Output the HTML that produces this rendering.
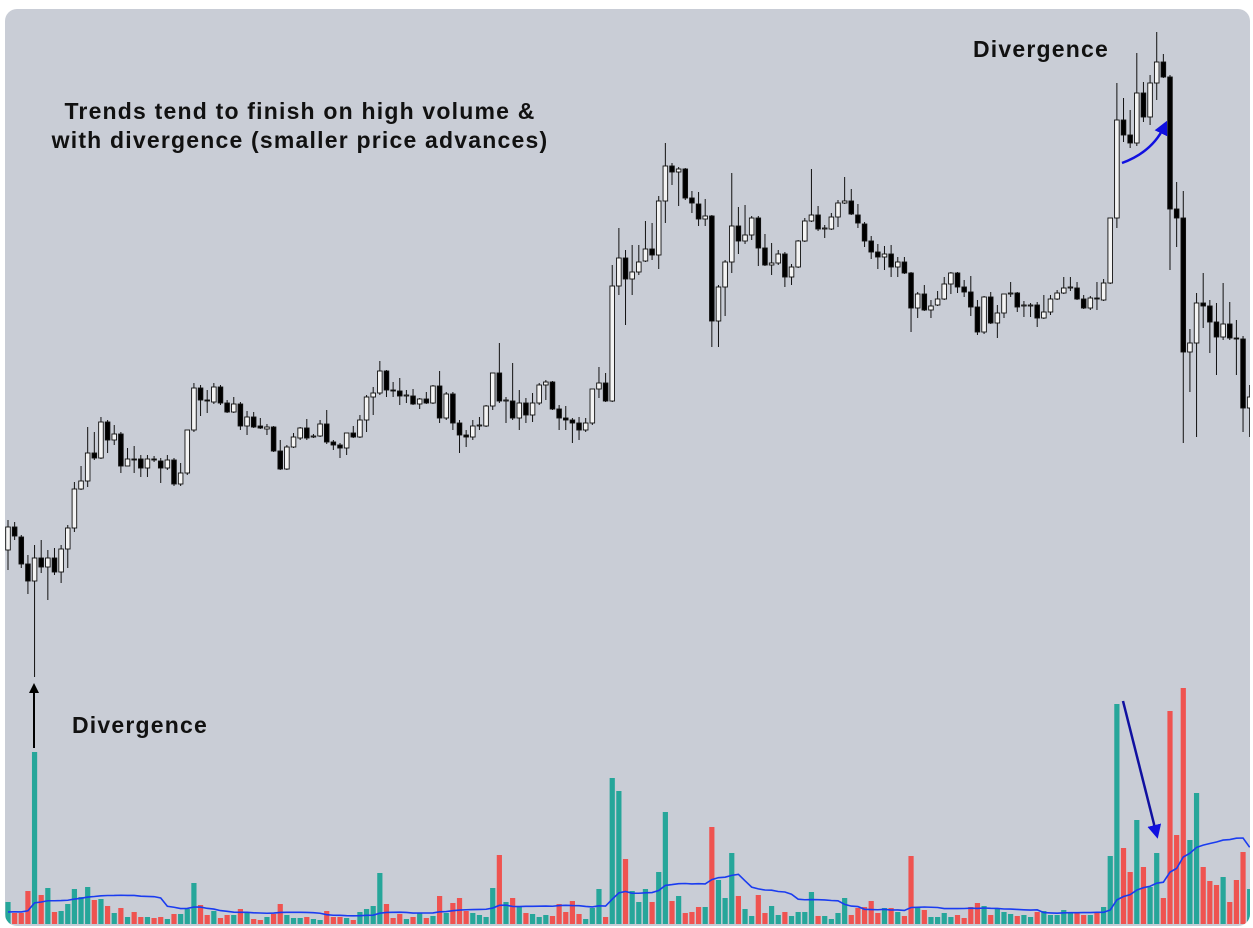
<!DOCTYPE html>
<html><head><meta charset="utf-8"><style>
html,body{margin:0;padding:0;background:#fff;width:1253px;height:928px;overflow:hidden}
svg{display:block}
text{font-family:"Liberation Sans",Arial,sans-serif;font-weight:bold;fill:#111;letter-spacing:1.2px}
</style></head><body>
<svg id="chart" width="1253" height="928" viewBox="0 0 1253 928">
<defs>
<clipPath id="panelClip"><rect x="5" y="9" width="1245" height="917" rx="12"/></clipPath>
<marker id="ahBlack" markerWidth="10" markerHeight="10" refX="5" refY="5" orient="auto" markerUnits="userSpaceOnUse"><path d="M0,0 L10,5 L0,10 z" fill="#000"/></marker>
<marker id="ahBlue" markerWidth="14" markerHeight="14" refX="7" refY="7" orient="auto" markerUnits="userSpaceOnUse"><path d="M0,0 L14,7 L0,14 z" fill="#1010e0"/></marker>
</defs>
<rect x="5" y="9" width="1245" height="917" rx="12" fill="#c9cdd6"/>
<g id="plot" clip-path="url(#panelClip)"></g>
<text x="300" y="119" font-size="23" text-anchor="middle">Trends tend to finish on high volume &amp;</text>
<text x="300" y="148" font-size="23" text-anchor="middle">with divergence (smaller price advances)</text>
<text x="973" y="57" font-size="23">Divergence</text>
<text x="72" y="733" font-size="23">Divergence</text>
<line x1="34" y1="748" x2="34" y2="688" stroke="#000" stroke-width="2" marker-end="url(#ahBlack)"/>
<path d="M1122,163 Q1152,152 1164,127" fill="none" stroke="#1010e0" stroke-width="2.5" marker-end="url(#ahBlue)"/>
<line x1="1123" y1="701" x2="1156" y2="832" stroke="#1010a0" stroke-width="2.5" marker-end="url(#ahBlue)"/>
</svg>
<script>
const opens=[450,473,463,436,419,442,433,442,428,451,472,511,519,547,542,578,560,566,534,541,541,532,541,539,532,540,516,527,570,612,600,598,613,597,588,596,574,583,574,571,573,549,531,553,562,572,563,564,576,558,555,552,567,563,580,603,607,629,610,609,604,604,596,601,597,614,582,606,577,565,563,574,574,594,627,599,599,582,597,585,597,615,618,591,582,580,577,570,577,611,617,599,714,742,721,728,739,751,745,799,834,828,831,802,796,781,784,679,713,738,774,759,765,782,752,735,737,746,723,733,759,779,785,771,771,783,797,799,785,776,759,748,743,746,733,738,727,692,706,690,695,701,716,727,713,708,693,668,703,677,687,706,707,694,694,695,682,688,701,707,712,712,701,692,702,700,717,782,880,865,857,907,883,917,938,923,791,782,648,657,697,694,678,663,676,662,661,592];
const highs=[480,478,465,445,455,460,450,452,455,475,518,534,573,568,583,580,575,568,552,554,545,545,544,542,545,542,537,570,617,615,610,617,615,600,603,598,589,588,582,576,574,560,555,567,573,581,566,580,590,560,557,567,574,585,605,613,639,630,618,622,610,611,602,608,615,629,608,608,580,570,580,583,595,627,657,603,637,610,602,607,617,620,619,595,594,582,583,582,611,633,627,735,772,750,755,755,779,777,804,857,837,833,832,809,808,801,785,715,740,827,793,795,784,784,766,757,750,748,736,760,782,831,794,775,787,800,823,811,796,778,764,756,754,755,743,743,728,708,715,700,709,723,728,728,720,724,700,704,708,695,706,718,708,699,697,698,705,705,710,723,723,718,705,704,718,721,782,917,902,890,947,918,925,968,946,925,818,809,671,707,727,700,697,717,698,680,664,615];
const lows=[430,460,432,406,323,427,400,425,417,432,468,510,513,540,541,547,555,527,534,527,523,523,538,517,530,514,514,525,568,584,587,596,595,587,587,570,565,572,571,565,548,530,530,552,560,560,562,563,556,550,542,545,562,562,568,585,605,603,603,595,597,595,591,596,596,577,580,570,547,553,560,570,573,590,597,577,580,570,577,578,595,600,590,570,570,557,560,568,575,602,598,598,705,675,705,725,738,740,731,777,815,794,800,787,774,774,653,653,684,727,746,756,760,734,734,725,735,713,715,732,758,778,769,762,770,773,796,785,772,753,741,731,730,723,723,726,668,682,689,682,694,700,706,707,703,684,665,666,676,662,682,703,688,683,683,673,681,685,700,706,709,700,691,690,690,699,716,772,858,852,854,878,875,900,922,730,753,557,608,563,672,647,625,660,660,625,568,563];
const closes=[473,464,436,419,442,433,442,428,451,472,511,519,547,542,578,560,566,534,541,540,532,541,540,532,540,516,527,570,612,600,599,613,597,588,596,574,583,573,572,573,549,531,553,563,572,562,564,576,558,555,552,567,563,580,603,607,629,610,609,604,605,596,601,597,614,582,606,577,565,563,574,575,594,627,599,600,582,597,585,597,615,618,591,582,580,577,570,577,611,617,599,714,742,721,728,738,751,745,799,834,828,831,802,797,781,784,679,713,738,774,759,765,782,752,735,737,746,723,733,759,779,785,771,772,783,797,799,786,777,759,748,743,746,733,738,727,692,706,690,694,701,716,727,713,708,693,668,703,677,687,706,707,693,695,695,682,688,701,707,712,713,701,692,702,701,717,782,880,865,857,907,883,917,938,923,791,782,648,657,697,694,678,663,676,662,661,592,603];
const volumes=[22,11,11,33,172,29,36,12,13,20,35,27,37,24,25,18,11,16,7,12,7,7,6,7,5,10,10,15,41,19,9,13,6,9,9,15,11,5,4,7,10,20,9,6,6,7,5,4,13,7,7,6,4,12,15,18,51,20,6,10,5,7,11,6,8,28,11,21,26,13,11,9,7,36,69,22,26,17,11,10,7,9,8,20,12,23,10,5,16,35,7,146,133,65,33,22,35,22,52,112,23,28,11,12,17,17,97,44,26,71,28,15,8,29,11,18,9,12,8,12,12,32,8,8,5,11,26,9,16,17,23,11,16,16,12,8,68,16,14,7,7,11,7,9,6,17,21,18,9,15,12,10,8,9,7,12,13,9,9,14,11,11,9,9,11,17,68,220,76,52,104,57,37,71,26,213,89,236,84,131,57,43,39,47,22,44,72,35];
const priorVolumes=[10,12,11,13,12,11,12,10,13,12,11,12,13,11,12,10,12,11,12];
const maPeriod=20;

const svgNS="http://www.w3.org/2000/svg";
const plot=document.getElementById('plot');
const X0=8, STEP=6.64, BODY=4.6;
function xScale(i){return X0+i*STEP;}
function yPrice(p){return 1000-p;}
const VBASE=924;
function yVol(v){return VBASE-v;}

const volG=document.createElementNS(svgNS,'g');


plot.appendChild(volG);
const candG=document.createElementNS(svgNS,'g');


plot.appendChild(candG);

for(let i=0;i<closes.length;i++){
  const x=xScale(i);
  const up=closes[i]>opens[i];
  const vb=document.createElementNS(svgNS,'rect');
  vb.setAttribute('x',(x-2.6).toFixed(2));
  vb.setAttribute('y',yVol(volumes[i]));
  vb.setAttribute('width',5.2);
  vb.setAttribute('height',volumes[i]);
  vb.setAttribute('fill',up?'#26a69a':'#ef5350');
  
  
  volG.appendChild(vb);
  const w=document.createElementNS(svgNS,'line');
  w.setAttribute('x1',x);w.setAttribute('x2',x);
  w.setAttribute('y1',yPrice(highs[i]));w.setAttribute('y2',yPrice(lows[i]));
  w.setAttribute('stroke','#111');w.setAttribute('stroke-width',1);
  
  
  candG.appendChild(w);
  const top=yPrice(Math.max(opens[i],closes[i]));
  const h=Math.max(1,Math.abs(opens[i]-closes[i]));
  const b=document.createElementNS(svgNS,'rect');
  b.setAttribute('x',(x-BODY/2).toFixed(2));
  b.setAttribute('y',top);
  b.setAttribute('width',BODY);
  b.setAttribute('height',h);
  b.setAttribute('fill',up?'#f4f4f4':'#000');
  b.setAttribute('stroke','#111');
  b.setAttribute('stroke-width',0.9);
  
  
  candG.appendChild(b);
}
const all=priorVolumes.concat(volumes);
let pts=[];
for(let i=0;i<volumes.length;i++){
  const j=i+priorVolumes.length;
  let s=0;for(let k=j-maPeriod+1;k<=j;k++)s+=all[k];
  pts.push(xScale(i).toFixed(2)+','+yVol(s/maPeriod).toFixed(2));
}
const ma=document.createElementNS(svgNS,'polyline');
ma.setAttribute('points',pts.join(' '));
ma.setAttribute('fill','none');
ma.setAttribute('stroke','#1a3cf0');
ma.setAttribute('stroke-width',1.6);


plot.appendChild(ma);
</script>
</body></html>
